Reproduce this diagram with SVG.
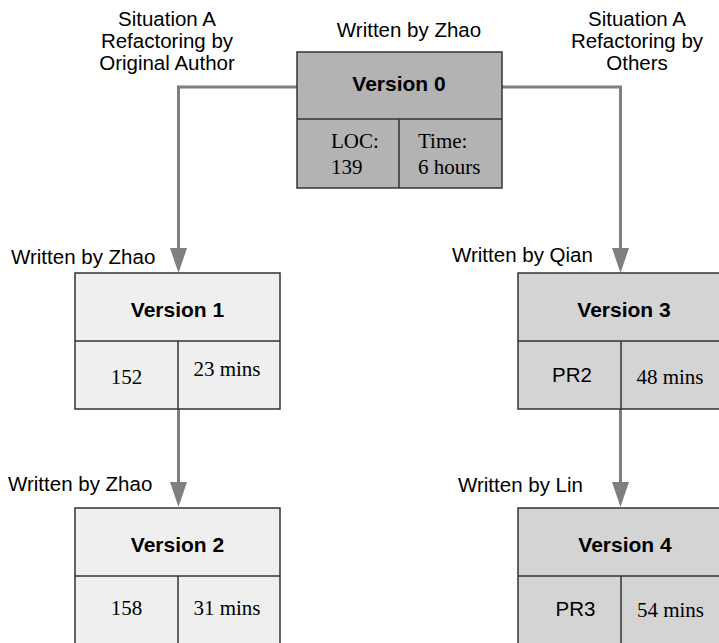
<svg xmlns="http://www.w3.org/2000/svg" width="719" height="643" viewBox="0 0 719 643">
<style>
.lbl{font-family:"Liberation Sans",Arial,sans-serif;font-size:20.5px;fill:#000}
.mid{text-anchor:middle}
.title{font-family:"Liberation Sans",Arial,sans-serif;font-size:21px;font-weight:bold;fill:#000;text-anchor:middle}
.tm{font-family:"Liberation Serif","Times New Roman",serif;font-size:21px;fill:#000}
.box{stroke:#333;stroke-width:1.5}
.v0{fill:#b3b3b3}
.va{fill:#efefef}
.vb{fill:#d4d4d4}
.div{stroke:#333;stroke-width:1.5;fill:none}
.conn{fill:none;stroke:#7f7f7f;stroke-width:3}
</style>
<defs>
<marker id="arr" markerUnits="userSpaceOnUse" viewBox="0 0 25 17" refX="0" refY="8.5" markerWidth="25" markerHeight="17" orient="auto">
<path d="M0,0 L25,8.5 L0,17 Z" fill="#7f7f7f"/>
</marker>
</defs>
<rect width="719" height="643" fill="#fff"/>

<g id="connectors">
<path class="conn" d="M297,87 H178.5 V248" marker-end="url(#arr)"/>
<path class="conn" d="M502,87 H620.5 V248" marker-end="url(#arr)"/>
<path class="conn" d="M178.5,409 V482" marker-end="url(#arr)"/>
<path class="conn" d="M620.5,409 V482" marker-end="url(#arr)"/>
</g>

<g id="labels">
<text class="lbl mid" x="167" y="26">Situation A</text>
<text class="lbl mid" x="167" y="48">Refactoring by</text>
<text class="lbl mid" x="167" y="70">Original Author</text>
<text class="lbl mid" x="637" y="26">Situation A</text>
<text class="lbl mid" x="637" y="48">Refactoring by</text>
<text class="lbl mid" x="637" y="70">Others</text>
<text class="lbl mid" x="409" y="37">Written by Zhao</text>
<text class="lbl" x="11" y="264">Written by Zhao</text>
<text class="lbl" x="452" y="262">Written by Qian</text>
<text class="lbl" x="8" y="491">Written by Zhao</text>
<text class="lbl" x="458" y="492">Written by Lin</text>
</g>

<g id="version0">
<rect class="box v0" x="297" y="52" width="205" height="136"/>
<path class="div" d="M297,119 H502 M399,119 V188"/>
<text class="title" x="399" y="91">Version 0</text>
<text class="tm" x="331" y="148">LOC:</text>
<text class="tm" x="331" y="174">139</text>
<text class="tm" x="418" y="148">Time:</text>
<text class="tm" x="418" y="174">6 hours</text>
</g>

<g id="version1">
<rect class="box va" x="75" y="273" width="205" height="136"/>
<path class="div" d="M75,341 H280 M178,341 V409"/>
<text class="title" x="177.5" y="317">Version 1</text>
<text class="tm mid" x="126.5" y="384">152</text>
<text class="tm mid" x="227" y="376">23 mins</text>
</g>

<g id="version2">
<rect class="box va" x="75" y="508" width="205" height="136"/>
<path class="div" d="M75,576 H280 M178,576 V644"/>
<text class="title" x="177.5" y="552">Version 2</text>
<text class="tm mid" x="126.5" y="615">158</text>
<text class="tm mid" x="227" y="615">31 mins</text>
</g>

<g id="version3">
<rect class="box vb" x="518" y="273" width="205" height="136"/>
<path class="div" d="M518,341 H723 M621,341 V409"/>
<text class="title" x="624" y="317">Version 3</text>
<text class="lbl mid" x="572" y="382">PR2</text>
<text class="tm mid" x="670" y="384">48 mins</text>
</g>

<g id="version4">
<rect class="box vb" x="518" y="508" width="205" height="136"/>
<path class="div" d="M518,576 H723 M621,576 V644"/>
<text class="title" x="625" y="552">Version 4</text>
<text class="lbl mid" x="575.5" y="616">PR3</text>
<text class="tm mid" x="670.5" y="617">54 mins</text>
</g>
</svg>
